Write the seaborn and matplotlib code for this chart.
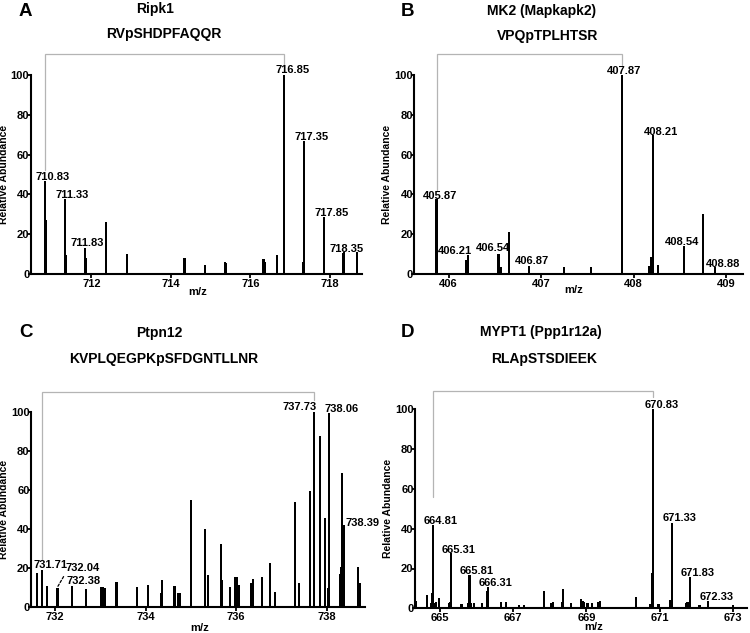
import numpy as np
import pandas as pd
import matplotlib
matplotlib.use("Agg")
import matplotlib.pyplot as plt
import seaborn as sns

# ---------------- data ----------------
# Panel A - Ripk1
ripk1_mz = [710.83, 710.86, 711.33, 711.35, 711.83, 711.86, 712.37, 712.89, 714.34,
            714.85, 715.36, 715.38, 716.33, 716.37, 716.67, 716.85, 717.33, 717.35,
            717.85, 718.33, 718.35, 718.68]
ripk1_int = [46.7, 27.0, 37.7, 9.5, 12.9, 7.9, 26.3, 10.0, 7.9,
             4.5, 5.9, 5.4, 7.5, 5.9, 9.5, 100.0, 5.9, 66.8,
             28.8, 10.4, 10.9, 10.9]
ripk1_labels = ["710.83", "711.33", "711.83", "716.85", "717.35", "717.85", "718.35"]

# Panel B - MK2
mk2_mz = [405.87, 406.19, 406.21, 406.54, 406.56, 406.655, 406.87, 407.25, 407.54,
          407.87, 408.17, 408.19, 408.21, 408.26, 408.54, 408.75, 408.88]
mk2_int = [37.7, 7.0, 9.5, 10.0, 3.4, 21.3, 4.2, 3.7, 3.4,
           100.0, 4.2, 8.4, 69.8, 4.5, 14.2, 30.0, 3.4]
mk2_labels = ["405.87", "406.21", "406.54", "406.87", "407.87", "408.21", "408.54", "408.88"]

# Panel C - Ptpn12
ptpn12_mz = [731.61, 731.71, 731.82, 732.04, 732.07, 732.38, 732.68, 733.02, 733.05,
             733.11, 733.36, 733.82, 734.05, 734.34, 734.36, 734.64, 734.71, 734.75,
             735.00, 735.32, 735.38, 735.66, 735.69, 735.86, 735.99, 736.02, 736.07,
             736.34, 736.38, 736.58, 736.75, 736.86, 737.31, 737.39, 737.63, 737.73,
             737.85, 737.97, 738.04, 738.06, 738.29, 738.32, 738.35, 738.39, 738.69,
             738.74]
ptpn12_int = [17.2, 18.9, 10.8, 9.6, 9.6, 10.8, 9.2, 10.4, 10.4,
              9.9, 13.0, 10.4, 11.3, 7.0, 13.8, 10.8, 7.3, 7.3,
              54.8, 39.8, 16.4, 32.3, 13.8, 10.0, 15.5, 15.2, 11.3,
              12.5, 14.2, 15.2, 22.4, 7.8, 53.9, 12.1, 59.4, 100.0,
              87.5, 45.4, 9.6, 99.1, 16.9, 20.6, 68.4, 42.0, 20.3,
              12.1]
ptpn12_labels = ["731.71", "732.04", "732.38", "737.73", "738.06", "738.39"]

# Panel D - MYPT1
mypt1_mz = [664.34, 664.64, 664.75, 664.78, 664.81, 664.86, 664.90, 664.98, 665.25,
            665.28, 665.31, 665.59, 665.78, 665.81, 665.85, 665.93, 666.16, 666.28,
            666.31, 666.66, 666.80, 667.17, 667.30, 667.85, 668.05, 668.08, 668.33,
            668.37, 668.58, 668.86, 668.90, 668.94, 669.03, 669.15, 669.33, 669.37,
            670.36, 670.75, 670.80, 670.83, 670.97, 671.30, 671.33, 671.72, 671.76,
            671.79, 671.83, 672.09, 672.33, 673.00]
mypt1_int = [3.8, 6.7, 2.8, 7.5, 41.9, 2.8, 3.3, 5.0, 2.5,
             3.3, 27.6, 2.2, 2.8, 16.7, 2.5, 2.5, 2.8, 8.9,
             10.5, 3.3, 3.3, 1.7, 1.8, 8.9, 2.5, 3.0, 3.3,
             9.5, 2.5, 4.5, 3.8, 3.3, 2.5, 2.5, 3.3, 3.8,
             5.5, 2.0, 17.5, 100.0, 2.2, 4.2, 42.9, 2.8, 3.3,
             3.3, 15.5, 1.7, 3.8, 1.7]
mypt1_labels = ["664.81", "665.31", "665.81", "666.31", "670.83", "671.33", "671.83", "672.33"]

letters = ["A", "B", "C", "D"]
proteins = ["Ripk1", "MK2 (Mapkapk2)", "Ptpn12", "MYPT1 (Ppp1r12a)"]
peptides = ["RVpSHDPFAQQR", "VPQpTPLHTSR", "KVPLQEGPKpSFDGNTLLNR", "RLApSTSDIEEK"]
xticks_list = [[712, 714, 716, 718], [406, 407, 408, 409],
               [732, 734, 736, 738], [665, 667, 669, 671, 673]]
yticks = [0, 20, 40, 60, 80, 100]

# ---------------- style ----------------
sns.set_style("ticks")
plt.rcParams['font.family'] = ['Liberation Sans', 'DejaVu Sans']
plt.rcParams['font.weight'] = 'bold'
plt.rcParams['axes.labelweight'] = 'bold'
plt.rcParams['text.color'] = 'black'
plt.rcParams['axes.labelcolor'] = 'black'
plt.rcParams['xtick.color'] = 'black'
plt.rcParams['ytick.color'] = 'black'
plt.rcParams['axes.edgecolor'] = 'black'

W, H = 750, 633
fig = plt.figure(figsize=(7.5, 6.33), dpi=100)

# layout in pixels: left, right, top(y=100), bottom(y=0)
boxes = [(30.7, 362.0, 75.0, 274.0), (414.3, 743.0, 75.0, 274.0),
         (31.0, 365.0, 411.7, 607.0), (415.0, 746.7, 409.3, 608.3)]
xlims = [(710.47, 718.81), (405.63, 409.18), (731.47, 738.85), (664.32, 673.38)]

# label offsets (points)
offsets = [
    [(5.5, 0.7), (5.5, 0.5), (1.7, 1.9), (6.0, 1.3), (5.5, 0.7), (5.3, 0.6), (2.4, 0.4)],
    [(2.4, 0.0), (-9.1, 0.7), (-4.3, 2.0), (2.4, 1.1), (1.9, 0.7), (5.5, 0.2), (-1.2, 0.7), (6.0, 0.2)],
    [(6.0, 1.4), (18.6, 12.2), (8.2, 1.4), (-10.3, 1.2), (8.9, 0.8), (13.5, -0.5)],
    [(5.4, 0.7), (5.6, 0.3), (5.4, 0.7), (5.4, 0.7), (5.8, 1.0), (5.8, 1.1), (5.8, 0.9), (5.8, 0.6)],
]
# bracket: gap above left peak, gap above right peak, level
brackets = [(5.6, 4.5, 110.5), (4.5, 5.0, 110.5), (5.1, 6.0, 110.2), (14.0, 6.0, 109.0)]
# m/z label: x fraction, px below axis (center)
mz_label = [(0.505, 18.7), (0.486, 16.7), (0.506, 21.3), (0.5375, 19.7)]
letter_pos = [(25.3, 11.2), (407.7, 11.2), (25.8, 332.5), (407.2, 332.5)]
prot_pos = [(155.0, 9.5), (541.7, 10.5), (159.3, 332.5), (540.8, 332.2)]
pep_pos = [(163.8, 34.3), (547.7, 36.0), (163.3, 359.2), (544.2, 359.2)]

datasets = [(ripk1_mz, ripk1_int, ripk1_labels), (mk2_mz, mk2_int, mk2_labels),
            (ptpn12_mz, ptpn12_int, ptpn12_labels), (mypt1_mz, mypt1_int, mypt1_labels)]

bar_px = 2.2
gray = "#b4b4b4"

for i, (mz, inten, labels) in enumerate(datasets):
    l, r, t, b = boxes[i]
    ax = fig.add_axes([l / W, 1 - b / H, (r - l) / W, (b - t) / H])
    df = pd.DataFrame({"mz": mz, "intensity": inten})
    x0, x1 = xlims[i]
    px_per_unit = (r - l) / (x1 - x0)
    native = np.nanmin(np.diff(np.unique(df["mz"].values)))
    width = (bar_px / px_per_unit) / native
    sns.barplot(data=df, x="mz", y="intensity", native_scale=True, width=width,
                color="black", saturation=1, linewidth=0, errorbar=None, ax=ax)
    ax.set_xlim(x0, x1)
    ax.set_ylim(0, 100)
    ax.set_xticks(xticks_list[i])
    ax.set_xticklabels([str(v) for v in xticks_list[i]])
    ax.set_yticks(yticks)
    ax.set_yticklabels([str(v) for v in yticks])
    sns.despine(ax=ax)
    for s in ["left", "bottom"]:
        ax.spines[s].set_linewidth(1.5)
        ax.spines[s].set_color("black")
    ax.tick_params(axis="x", length=3, width=1.3, pad=0.5, labelsize=8, colors="black")
    ax.tick_params(axis="y", length=2, width=1.3, pad=-1, labelsize=8, colors="black")
    ax.set_ylabel("Relative Abundance", fontsize=7.5, labelpad=1.5, color="black")
    ax.set_xlabel("m/z", fontsize=8, color="black")
    fx, off = mz_label[i]
    ax.xaxis.set_label_coords(fx, -(off - 5.5) / (b - t))

    # peak labels
    lookup = dict(zip([round(v, 3) for v in mz], inten))
    for j, lab in enumerate(labels):
        xv = float(lab)
        yv = lookup[round(xv, 3)]
        dx, dy = offsets[i][j]
        kw = {}
        if i == 2 and lab == "732.04":
            kw["arrowprops"] = dict(arrowstyle="-", linestyle=(0, (2.0, 1.5)), lw=0.9,
                                    color="black", shrinkA=0, shrinkB=0.5, relpos=(0.0, 0.0))
        ax.annotate(lab, xy=(xv, yv), xytext=(dx, dy), textcoords="offset points",
                    ha="center", va="baseline", fontsize=8, fontweight="bold",
                    color="black", annotation_clip=False, **kw)

    # bracket between monoisotopic peak and the heavy partner
    left_lab, right_lab = labels[0], labels[[k for k, lb in enumerate(labels)
                                              if lookup[round(float(lb), 3)] >= 99][0]]
    lx, rx = float(left_lab), float(right_lab)
    ly = lookup[round(lx, 3)] + brackets[i][0]
    ry = lookup[round(rx, 3)] + brackets[i][1]
    lev = brackets[i][2]
    ax.plot([lx, lx, rx, rx], [ly, lev, lev, ry], color=gray, lw=0.9, clip_on=False,
            solid_joinstyle="miter")

    # panel texts
    lxp, lyp = letter_pos[i]
    fig.text(lxp / W, 1 - lyp / H, letters[i], ha="center", va="center",
             fontsize=13.5, fontweight="bold", color="black")
    pxp, pyp = prot_pos[i]
    fig.text(pxp / W, 1 - pyp / H, proteins[i], ha="center", va="center",
             fontsize=10, fontweight="bold", color="black")
    qxp, qyp = pep_pos[i]
    fig.text(qxp / W, 1 - qyp / H, peptides[i], ha="center", va="center",
             fontsize=10, fontweight="bold", color="black")

fig.savefig("out.png", dpi=100)
